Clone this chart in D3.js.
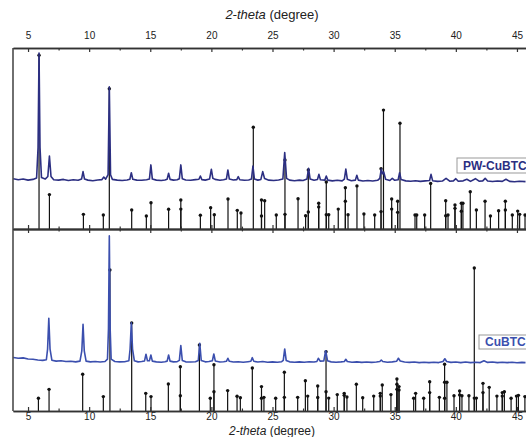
<!DOCTYPE html>
<html>
<head>
<meta charset="utf-8">
<script src="https://cdn.jsdelivr.net/npm/d3@7"></script>
<style>
    body { margin: 0; background: #fff; }
    svg { display: block; font-family: "Liberation Sans", Arial, sans-serif; }
</style>
</head>
<body>
<div id="chart"></div>
<script>
// tick values (2-theta, degree)
const majorTicks = [5, 10, 15, 20, 25, 30, 35, 40, 45];
const minorTicks = [7.5, 12.5, 17.5, 22.5, 27.5, 32.5, 37.5, 42.5];

// measured pattern PW-CuBTC  [2theta, intensity a.u.]
const pwCurve = [
    [3.8, 27.8], [4.2, 27.2], [4.6, 27.6], [5.0, 27.0], [5.4, 27.4], [5.7, 28.2], [5.82, 45], [5.9, 97.2], [5.98, 45], [6.1, 28.4],
    [6.4, 27.6], [6.62, 29], [6.75, 40.3], [6.88, 29], [7.1, 27.2], [7.5, 27.0], [7.9, 27.4], [8.3, 26.8], [8.7, 27.2], [9.1, 26.9],
    [9.38, 27.6], [9.5, 31.7], [9.62, 27.6], [9.9, 27.0], [10.3, 26.7], [10.7, 27.1], [11.05, 27.3], [11.2, 28.7], [11.35, 27.5],
    [11.55, 30], [11.65, 78.5], [11.75, 30], [11.9, 27.4], [12.3, 27.0], [12.7, 26.8], [13.1, 27.1], [13.33, 27.5], [13.45, 31.1],
    [13.57, 27.5], [13.9, 27.0], [14.3, 26.9], [14.7, 27.2], [14.93, 27.6], [15.05, 35.4], [15.17, 27.6], [15.5, 27.0], [15.9, 26.8],
    [16.2, 27.1], [16.38, 27.5], [16.5, 30.8], [16.62, 27.4], [16.9, 27.0], [17.2, 27.2], [17.38, 27.8], [17.5, 35.4], [17.62, 27.8],
    [17.9, 27.1], [18.3, 26.9], [18.7, 27.3], [18.98, 27.5], [19.1, 29.3], [19.22, 27.3], [19.5, 27.0], [19.85, 27.6], [20.0, 33.0],
    [20.12, 28.0], [20.3, 27.4], [20.7, 26.9], [21.0, 27.2], [21.23, 27.6], [21.35, 32.6], [21.47, 27.6], [21.8, 27.1], [22.08, 27.3],
    [22.2, 28.9], [22.32, 27.2], [22.7, 26.9], [23.05, 27.1], [23.28, 27.6], [23.4, 34.8], [23.52, 27.6], [23.8, 27.0], [24.05, 27.4],
    [24.2, 31.7], [24.35, 27.9], [24.7, 27.0], [25.1, 26.8], [25.5, 27.1], [25.85, 27.6], [26.0, 42.2], [26.15, 28], [26.4, 27.0],
    [26.8, 26.7], [27.2, 27.0], [27.5, 26.8], [27.82, 27.6], [27.95, 33.5], [28.08, 27.6], [28.4, 26.9], [28.68, 27.3], [28.8, 30.2],
    [28.92, 27.2], [29.28, 27.0], [29.4, 29.3], [29.52, 27.0], [29.9, 26.6], [30.3, 26.9], [30.7, 26.6], [30.88, 27.5], [31.0, 33.1],
    [31.12, 27.5], [31.45, 26.7], [31.78, 27.0], [31.9, 29.7], [32.02, 27.0], [32.4, 26.5], [32.8, 26.8], [33.2, 26.5], [33.6, 26.9],
    [33.78, 28.0], [33.9, 33.1], [34.0, 30.5], [34.1, 31.5], [34.25, 27.5], [34.6, 26.8], [34.8, 28.0], [35.0, 26.9], [35.28, 27.2],
    [35.4, 31.1], [35.52, 27.3], [35.9, 26.6], [36.3, 26.4], [36.7, 26.7], [37.1, 26.3], [37.5, 26.6], [37.85, 26.8], [37.97, 30.2],
    [38.1, 26.7], [38.5, 26.3], [38.9, 26.5], [39.2, 28.0], [39.5, 26.4], [39.8, 26.6], [40.0, 27.8], [40.2, 26.4], [40.6, 26.6],
    [40.9, 27.5], [41.2, 26.3], [41.6, 27.8], [41.9, 26.4], [42.2, 26.6], [42.4, 28.0], [42.6, 26.5], [43.0, 26.2], [43.4, 26.5],
    [43.8, 26.3], [44.1, 27.5], [44.4, 26.3], [44.8, 26.1], [45.2, 26.4], [45.7, 26.2]
];

// measured pattern CuBTC
const cuCurve = [
    [3.8, 29.4], [4.2, 29.0], [4.6, 29.2], [5.0, 28.6], [5.4, 28.4], [5.8, 28.0], [6.2, 27.8], [6.5, 28.2], [6.6, 34], [6.7, 50.9],
    [6.8, 34], [6.95, 27.9], [7.3, 27.4], [7.7, 27.6], [8.1, 27.2], [8.5, 27.3], [8.9, 27.0], [9.25, 27.4], [9.4, 33], [9.5, 47.6],
    [9.6, 33], [9.75, 27.4], [10.1, 27.0], [10.5, 27.2], [10.9, 26.9], [11.3, 27.2], [11.5, 28.5], [11.58, 45], [11.65, 96.2],
    [11.72, 45], [11.8, 28.5], [12.1, 27.2], [12.5, 27.0], [12.9, 27.1], [13.25, 27.6], [13.35, 34], [13.45, 48.4], [13.55, 34],
    [13.7, 27.6], [14.0, 27.0], [14.3, 27.2], [14.53, 27.5], [14.65, 31.2], [14.77, 27.6], [14.93, 27.6], [15.05, 30.8], [15.17, 27.4],
    [15.5, 27.0], [15.9, 26.8], [16.2, 27.1], [16.38, 27.4], [16.5, 30.8], [16.62, 27.4], [16.9, 27.0], [17.2, 27.1], [17.38, 27.8],
    [17.5, 35.9], [17.62, 27.8], [17.9, 27.0], [18.3, 26.9], [18.7, 27.1], [18.93, 27.8], [19.05, 37.2], [19.17, 27.8], [19.5, 27.0],
    [19.8, 27.2], [20.08, 27.6], [20.2, 31.3], [20.32, 27.5], [20.7, 26.9], [21.0, 27.1], [21.23, 27.3], [21.35, 29.0], [21.47, 27.3],
    [21.8, 26.9], [22.2, 27.1], [22.6, 26.8], [23.0, 27.1], [23.23, 27.3], [23.35, 29.3], [23.47, 27.3], [23.8, 26.9], [24.2, 27.2],
    [24.6, 26.8], [25.0, 27.0], [25.4, 26.8], [25.75, 27.1], [25.88, 27.8], [26.0, 34.1], [26.12, 27.8], [26.4, 27.0], [26.8, 26.8],
    [27.2, 27.0], [27.6, 26.8], [28.0, 27.1], [28.4, 26.9], [28.63, 27.2], [28.75, 29.0], [28.9, 27.4], [29.2, 27.5], [29.35, 33.1],
    [29.5, 27.6], [29.8, 27.0], [30.2, 26.8], [30.6, 27.0], [30.88, 27.2], [31.0, 28.4], [31.12, 27.2], [31.5, 26.8], [31.9, 27.0],
    [32.3, 26.7], [32.7, 26.9], [33.1, 26.7], [33.5, 26.9], [33.78, 27.2], [33.9, 28.0], [34.02, 27.2], [34.4, 26.8], [34.8, 27.0],
    [35.15, 27.3], [35.3, 29.0], [35.45, 27.5], [35.8, 26.9], [36.2, 26.7], [36.6, 26.9], [37.0, 26.6], [37.4, 26.8], [37.8, 26.6],
    [38.2, 26.8], [38.6, 26.6], [38.95, 27.2], [39.1, 28.7], [39.25, 27.2], [39.6, 26.7], [40.0, 26.9], [40.4, 26.6], [40.8, 26.9],
    [41.2, 26.6], [41.6, 26.8], [42.0, 26.6], [42.3, 27.6], [42.6, 26.7], [43.0, 26.9], [43.4, 26.6], [43.8, 26.8], [44.2, 26.6],
    [44.6, 26.8], [45.0, 26.5], [45.4, 26.7], [45.7, 26.6]
];

// reference stick patterns [2theta, intensity]
const pwSticks = [
    [5.9, 96], [6.75, 19.0], [9.53, 8.1], [11.16, 7.7], [11.65, 77.5], [13.48, 10.5], [14.68, 7.2], [15.06, 14.5], [16.5, 10.9],
    [17.5, 16.0], [17.5, 11.0], [19.1, 7.6], [19.94, 11.8], [20.24, 7.9], [21.36, 16.6], [22.12, 10.3], [22.42, 8.8], [23.43, 56.2],
    [24.1, 16.0], [24.1, 7.2], [24.36, 15.6], [25.31, 7.7], [26.02, 38.1], [26.02, 8.1], [27.09, 16.7], [27.71, 7.3], [27.93, 32.6],
    [27.93, 9.4], [28.78, 14.2], [28.78, 12.2], [29.4, 26.0], [29.4, 7.9], [29.6, 7.9], [30.38, 11.0], [30.96, 22.8], [30.96, 15.3],
    [31.18, 7.9], [31.91, 23.8], [32.48, 8.3], [33.36, 7.7], [33.88, 33.3], [33.88, 9.6], [34.08, 65.7], [34.75, 16.6], [34.75, 11.0],
    [35.24, 15.3], [35.24, 9.2], [35.43, 58.4], [36.66, 7.7], [36.8, 7.7], [37.45, 7.7], [37.94, 25.2], [39.17, 15.6], [39.17, 7.3],
    [39.36, 7.7], [39.93, 13.3], [39.93, 11.4], [40.45, 9.8], [40.45, 14.2], [40.58, 14.2], [41.18, 20.6], [41.68, 10.5], [42.39, 15.3],
    [42.83, 7.2], [43.5, 10.1], [44.05, 15.3], [44.05, 10.5], [44.62, 7.7], [45.06, 9.9], [45.22, 8.1], [45.66, 7.7]
];

const cuSticks = [
    [5.85, 7.0], [6.72, 11.9], [9.47, 20.2], [11.16, 7.9], [11.7, 77.5], [13.48, 48.4], [14.63, 9.7], [15.06, 7.9], [16.48, 14.8],
    [17.46, 24.3], [17.46, 8.4], [19.02, 36.3], [19.91, 7.0], [20.21, 25.4], [20.21, 10.6], [21.33, 11.2], [22.1, 8.1], [22.37, 7.3],
    [23.35, 23.6], [24.1, 13.4], [24.1, 7.0], [24.3, 7.5], [25.26, 7.0], [25.97, 21.3], [25.97, 7.5], [27.06, 7.5], [27.69, 16.6],
    [27.88, 8.2], [28.7, 13.7], [28.7, 7.4], [29.38, 32.6], [29.38, 10.6], [29.6, 7.1], [30.3, 9.0], [30.87, 9.7], [30.87, 8.6],
    [31.09, 7.7], [31.86, 14.7], [32.38, 7.3], [33.28, 8.2], [33.82, 9.7], [33.82, 8.2], [33.98, 14.3], [34.69, 9.0], [35.18, 17.6],
    [35.18, 14.7], [35.18, 11.9], [35.35, 13.4], [35.35, 11.5], [36.55, 7.0], [36.71, 9.7], [37.37, 7.0], [37.86, 16.1], [37.86, 10.1],
    [38.65, 7.5], [39.08, 25.7], [39.08, 15.8], [39.08, 7.0], [39.27, 15.8], [39.85, 8.4], [40.31, 11.0], [40.31, 8.8], [40.5, 8.4],
    [41.07, 8.4], [41.51, 78.6], [41.51, 7.1], [41.68, 7.1], [42.22, 15.2], [42.22, 10.1], [42.73, 13.0], [43.36, 8.2], [43.8, 10.1],
    [43.8, 8.2], [43.97, 10.6], [44.52, 7.0], [44.96, 8.2], [45.12, 8.6], [45.65, 7.9]
];

const width = 526;
const height = 437;
const plotLeft = 13, plotRight = 526;
const plotTop = 48, plotMid = 229, plotBottom = 411;

const svg = d3.select("#chart")
    .append("svg")
    .attr("width", width)
    .attr("height", height);

const x = d3.scaleLinear().domain([3.77, 45.74]).range([plotLeft, plotRight]);
const yTop = d3.scaleLinear().domain([0, 100]).range([plotMid, plotTop]);
const yBot = d3.scaleLinear().domain([0, 100]).range([plotBottom, plotMid]);

svg.append("clipPath").attr("id", "plotClip")
    .append("rect")
    .attr("x", plotLeft).attr("y", plotTop)
    .attr("width", plotRight - plotLeft).attr("height", plotBottom - plotTop);

const plot = svg.append("g").attr("clip-path", "url(#plotClip)");

const panels = [
    { curve: pwCurve, sticks: pwSticks, y: yTop, color: "#2c2f82" },
    { curve: cuCurve, sticks: cuSticks, y: yBot, color: "#3b4fae" }
];

panels.forEach(p => {
    // sticks
    plot.append("g")
        .selectAll("line")
        .data(p.sticks)
        .enter().append("line")
        .attr("x1", d => x(d[0]))
        .attr("x2", d => x(d[0]))
        .attr("y1", p.y(0))
        .attr("y2", d => p.y(d[1]))
        .attr("stroke", "#111")
        .attr("stroke-width", 1.2);

    plot.append("g")
        .selectAll("circle")
        .data(p.sticks)
        .enter().append("circle")
        .attr("cx", d => x(d[0]))
        .attr("cy", d => p.y(d[1]))
        .attr("r", 1.7)
        .attr("fill", "#111");

    // measured curve
    const line = d3.line()
        .x(d => x(d[0]))
        .y(d => p.y(d[1]));

    plot.append("path")
        .datum(p.curve)
        .attr("d", line)
        .attr("fill", "none")
        .attr("stroke", p.color)
        .attr("stroke-width", 1.6)
        .attr("stroke-linejoin", "round");
});

// axes
const axisColor = "#333";
function styleAxis(g) {
    g.select(".domain").attr("stroke", axisColor).attr("stroke-width", 1.4);
    g.selectAll(".tick line").attr("stroke", axisColor).attr("stroke-width", 1.2);
    g.selectAll(".tick text").attr("fill", "#222").style("font-size", "10px")
        .style("font-family", "'Liberation Sans', Arial, sans-serif");
}

// top axis with labels
svg.append("g")
    .attr("transform", `translate(0,${plotTop})`)
    .call(d3.axisTop(x).tickValues(majorTicks).tickSizeInner(-4).tickSizeOuter(0).tickPadding(9))
    .call(styleAxis);
svg.append("g")
    .attr("transform", `translate(0,${plotTop})`)
    .call(d3.axisTop(x).tickValues(minorTicks).tickSizeInner(-2.5).tickSizeOuter(0).tickFormat(""))
    .call(styleAxis);

// middle separator, ticks both ways
[-4, 4].forEach(s => {
    svg.append("g")
        .attr("transform", `translate(0,${plotMid})`)
        .call(d3.axisBottom(x).tickValues(majorTicks).tickSizeInner(s).tickSizeOuter(0).tickFormat(""))
        .call(styleAxis);
    svg.append("g")
        .attr("transform", `translate(0,${plotMid})`)
        .call(d3.axisBottom(x).tickValues(minorTicks).tickSizeInner(s * 0.6).tickSizeOuter(0).tickFormat(""))
        .call(styleAxis);
});

// bottom axis with labels
svg.append("g")
    .attr("transform", `translate(0,${plotBottom})`)
    .call(d3.axisBottom(x).tickValues(majorTicks).tickSizeInner(-4).tickSizeOuter(0).tickPadding(2))
    .call(styleAxis);
svg.append("g")
    .attr("transform", `translate(0,${plotBottom})`)
    .call(d3.axisBottom(x).tickValues(minorTicks).tickSizeInner(-2.5).tickSizeOuter(0).tickFormat(""))
    .call(styleAxis);

// left frame line
svg.append("line")
    .attr("x1", plotLeft).attr("x2", plotLeft)
    .attr("y1", plotTop).attr("y2", plotBottom)
    .attr("stroke", axisColor)
    .attr("stroke-width", 1.4);

// axis titles
[[19, 13], [434.5, 12]].forEach(([yy, fs]) => {
    const t = svg.append("text")
        .attr("x", 272)
        .attr("y", yy)
        .attr("text-anchor", "middle")
        .style("font-size", fs + "px")
        .attr("fill", "#222");
    t.append("tspan").style("font-style", "italic").text("2-theta");
    t.append("tspan").text(" (degree)");
});

// sample labels
const labels = [
    { text: "PW-CuBTC", x: 457, y: 158, w: 75, h: 15, color: "#2c2f82" },
    { text: "CuBTC", x: 479, y: 335, w: 55, h: 14, color: "#3b4fae" }
];
labels.forEach(l => {
    svg.append("rect")
        .attr("x", l.x).attr("y", l.y)
        .attr("width", l.w).attr("height", l.h)
        .attr("fill", "#fff")
        .attr("stroke", "#999")
        .attr("stroke-width", 1);
    svg.append("text")
        .attr("x", l.x + 6)
        .attr("y", l.y + l.h - 3.5)
        .style("font-size", "12px")
        .style("font-weight", "bold")
        .attr("fill", l.color)
        .text(l.text);
});
</script>
</body>
</html>
